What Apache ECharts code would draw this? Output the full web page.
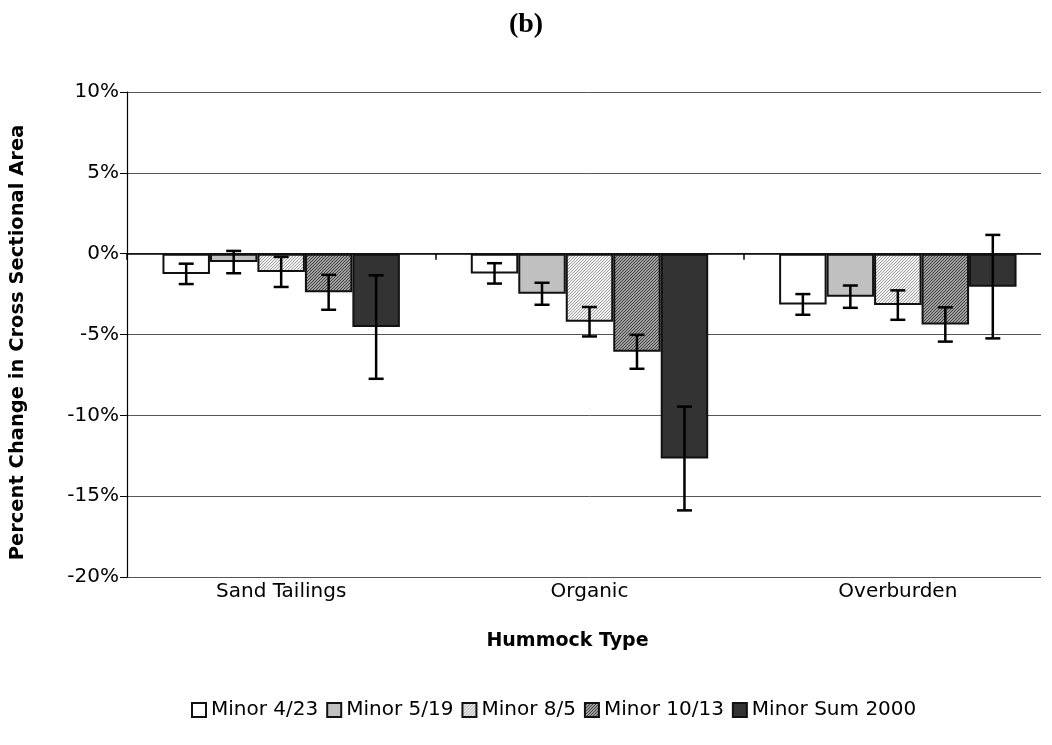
<!DOCTYPE html>
<html>
<head>
<meta charset="utf-8">
<script src="https://cdn.jsdelivr.net/npm/echarts@6/dist/echarts.min.js"></script>
<style>html,body{margin:0;padding:0;background:#fff}#c{width:1052px;height:745px}</style>
</head>
<body>
<div id="c"></div>
<script>
// ---- data ----
var categories = ['Sand Tailings', 'Organic', 'Overburden'];
var seriesNames = ['Minor 4/23', 'Minor 5/19', 'Minor 8/5', 'Minor 10/13', 'Minor Sum 2000'];
var minor423 = [-1.25, -1.22, -3.14];
var minor519 = [-0.52, -2.48, -2.66];
var minor85 = [-1.13, -4.21, -3.18];
var minor1013 = [-2.39, -6.07, -4.38];
var minorSum2000 = [-4.54, -12.67, -2.04];
var err423 = [0.63, 0.63, 0.64];
var err519 = [0.69, 0.68, 0.69];
var err85 = [0.93, 0.91, 0.91];
var err1013 = [1.08, 1.05, 1.06];
var errSum2000 = [3.2, 3.21, 3.2];
var yTicks = {min: -20, max: 10, interval: 5};

var values = [minor423, minor519, minor85, minor1013, minorSum2000];
var errors = [err423, err519, err85, err1013, errSum2000];

// ---- pattern fills ----
function hatch(bg, fg, step, lw) {
  var c = document.createElement('canvas');
  c.width = step; c.height = step;
  var g = c.getContext('2d');
  g.fillStyle = bg; g.fillRect(0, 0, step, step);
  g.strokeStyle = fg; g.lineWidth = lw;
  g.beginPath();
  g.moveTo(-1, step + 1); g.lineTo(step + 1, -1);
  g.moveTo(-1, 1); g.lineTo(1, -1);
  g.moveTo(step - 1, step + 1); g.lineTo(step + 1, step - 1);
  g.stroke();
  return {image: c, repeat: 'repeat'};
}
var fills = [
  '#ffffff',
  '#c0c0c0',
  hatch('#f2f2f2', '#a0a0a0', 3, 1),
  hatch('#d2d2d2', '#383838', 3, 1.2),
  '#333333'
];

var BAR_GAP = 0.23;
var font = 'DejaVu Sans, Liberation Sans, Arial, sans-serif';

var series = [];
seriesNames.forEach(function (name, i) {
  series.push({
    name: name,
    type: 'bar',
    data: values[i],
    barGap: '0%',
    barCategoryGap: (BAR_GAP * 100) + '%',
    itemStyle: {color: fills[i], borderColor: '#111', borderWidth: 2},
    emphasis: {disabled: true},
    animation: false
  });
});
seriesNames.forEach(function (name, i) {
  var d = values[i].map(function (v, k) { return [k, v, errors[i][k]]; });
  series.push({
    type: 'custom',
    name: name + ' err',
    data: d,
    z: 10,
    animation: false,
    silent: true,
    renderItem: function (params, api) {
      var k = api.value(0), v = api.value(1), e = api.value(2);
      var center = api.coord([k, v]);
      var bandW = api.size([1, 0])[0];
      var bw = bandW * (1 - BAR_GAP) / 5;
      var x = center[0] + (i - 2) * bw;
      var yt = api.coord([k, v + e])[1];
      var yb = api.coord([k, v - e])[1];
      var cap = 7.5;
      var st = {stroke: '#000', lineWidth: 2.5};
      return {type: 'group', children: [
        {type: 'line', shape: {x1: x, y1: yt, x2: x, y2: yb}, style: st},
        {type: 'line', shape: {x1: x - cap, y1: yt, x2: x + cap, y2: yt}, style: st},
        {type: 'line', shape: {x1: x - cap, y1: yb, x2: x + cap, y2: yb}, style: st}
      ]};
    }
  });
});

var chart = echarts.init(document.getElementById('c'), null, {renderer: 'canvas'});
chart.setOption({
  animation: false,
  backgroundColor: '#fff',
  title: {
    text: '(b)', left: 'center', top: 6,
    textStyle: {fontFamily: 'Liberation Serif, Times New Roman, serif', fontWeight: 'bold', fontSize: 28, color: '#000'}
  },
  legend: {
    data: seriesNames,
    bottom: 20, left: 186,
    icon: 'rect', itemWidth: 14, itemHeight: 14, itemGap: 8,
    textStyle: {fontFamily: font, fontSize: 20, color: '#000'}
  },
  grid: {left: 126, top: 92, width: 930, height: 485, containLabel: false},
  graphic: [{
    type: 'rect', right: 0, top: 0, z: 100, silent: true,
    shape: {width: 11, height: 745}, style: {fill: '#fff'}
  }],
  xAxis: [
    {
      type: 'category', data: categories, position: 'bottom',
      axisLine: {onZero: true, lineStyle: {color: '#000', width: 1.5}},
      axisTick: {show: true, length: 6, lineStyle: {color: '#000', width: 1.5}},
      axisLabel: {show: false},
      splitLine: {show: false}
    },
    {
      type: 'category', data: categories, position: 'bottom',
      axisLine: {show: false}, axisTick: {show: false},
      axisLabel: {show: true, margin: 5, fontFamily: font, fontSize: 20, color: '#000'},
      name: 'Hummock Type', nameLocation: 'middle', nameGap: 55,
      nameTextStyle: {fontFamily: font, fontSize: 19, fontWeight: 'bold', color: '#000', padding: [0, 44, 0, 0]}
    }
  ],
  yAxis: {
    type: 'value', min: yTicks.min, max: yTicks.max, interval: yTicks.interval,
    axisLine: {show: true, lineStyle: {color: '#000', width: 1.2}},
    axisTick: {show: true, length: 7, lineStyle: {color: '#000'}},
    axisLabel: {formatter: '{value}%', fontFamily: font, fontSize: 20, color: '#000', margin: 8},
    splitLine: {show: true, lineStyle: {color: '#555', width: 1}},
    name: 'Percent Change in Cross Sectional Area', nameLocation: 'middle', nameGap: 99,
    nameTextStyle: {fontFamily: font, fontSize: 19.5, fontWeight: 'bold', color: '#000', padding: [0, 16, 0, 0]}
  },
  series: series
});
</script>
</body>
</html>
